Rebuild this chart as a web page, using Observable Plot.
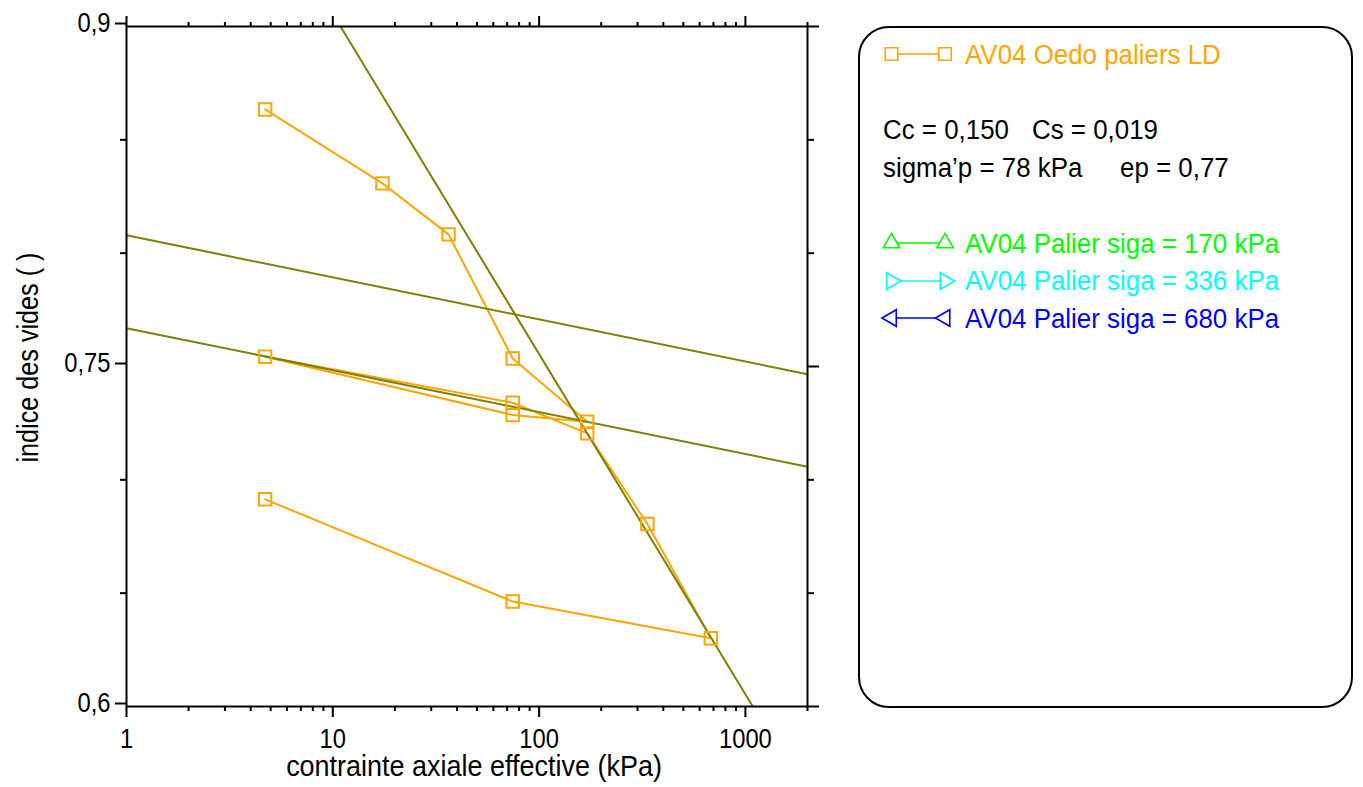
<!DOCTYPE html>
<html><head><meta charset="utf-8">
<script src="https://cdn.jsdelivr.net/npm/d3@7"></script>
<script src="https://cdn.jsdelivr.net/npm/@observablehq/plot@0.6"></script>
<style>
html,body{margin:0;padding:0;background:#fff;}
#wrap{position:relative;width:1363px;height:787px;overflow:hidden;}
#legend{position:absolute;left:0;top:0;pointer-events:none;}
</style></head><body><div id="wrap"></div>
<script>
// ---- data ----
const stress    = [4.7, 17.4, 36.4, 74.5, 171, 74.5, 4.7, 74.5, 171, 335, 680, 74.5, 4.7];
const voidRatio = [0.8634, 0.8308, 0.8083, 0.7535, 0.7256, 0.7286, 0.7543, 0.7340, 0.7205, 0.6805, 0.6301, 0.6463, 0.6914];

const fitName   = ["Cc", "Cc", "Cs1", "Cs1", "Cs2", "Cs2"];
const fitStress = [10.9, 1086, 1, 2000, 1, 2000];
const fitVoid   = [0.9, 0.6, 0.8079, 0.7466, 0.7669, 0.7058];

const xMajor = [1, 10, 100, 1000];
const xMinor = [2,3,4,5,6,7,8,9,20,30,40,50,60,70,80,90,200,300,400,500,600,700,800,900,2000];
const yMajor = [0.6, 0.75, 0.9];
const yMinor = [0.65, 0.7, 0.8, 0.85];

const xTitle = "contrainte axiale effective (kPa)";
const yTitle = "indice des vides ( )";

const legendLabels  = ["AV04 Oedo paliers LD", "AV04 Palier siga = 170 kPa", "AV04 Palier siga = 336 kPa", "AV04 Palier siga = 680 kPa"];
const legendColors  = ["#FFA500", "#00FF00", "#00FFFF", "#0000FF"];
const legendSymbols = ["square", "triangle-up", "triangle-right", "triangle-left"];
const statsText = [["Cc = 0,150", "Cs = 0,019"], ["sigma\u2019p = 78 kPa", "ep = 0,77"]];

const ORANGE = "#FFA500", OLIVE = "#808000";
const FONT = "'Liberation Sans', Arial, Helvetica, sans-serif";

const curve = stress.map((s, i) => ({s, e: voidRatio[i]}));
const fits = fitStress.map((s, i) => ({s, e: fitVoid[i], k: fitName[i]}));
const comma = d => String(d).replace(".", ",");

const plot = Plot.plot({
  width: 1363, height: 787,
  marginLeft: 126, marginRight: 556, marginTop: 26, marginBottom: 81,
  style: {fontFamily: FONT, fontSize: "26px", background: "white", color: "black", overflow: "visible"},
  x: {type: "log", domain: [1, 2000]},
  y: {domain: [0.6, 0.9]},
  marks: [
    Plot.axisX({anchor: "bottom", ticks: xMajor, tickSize: 11, tickPadding: 11, tickFormat: d => String(d), fontSize: 27, stroke: "black", strokeWidth: 2, label: null}),
    Plot.axisX({anchor: "bottom", ticks: xMinor, tickSize: 5, tickFormat: () => "", stroke: "black", strokeWidth: 2, label: null}),
    Plot.axisX({anchor: "top", ticks: xMajor, tickSize: 11, tickFormat: () => "", stroke: "black", strokeWidth: 2, label: null}),
    Plot.axisX({anchor: "top", ticks: xMinor, tickSize: 5, tickFormat: () => "", stroke: "black", strokeWidth: 2, label: null}),
    Plot.axisY({anchor: "left", ticks: yMajor, tickSize: 11, tickPadding: 5, tickFormat: comma, dy: -3, fontSize: 27, stroke: "black", strokeWidth: 2, label: null}),
    Plot.axisY({anchor: "left", ticks: yMinor, tickSize: 6, tickFormat: () => "", stroke: "black", strokeWidth: 2, label: null}),
    Plot.axisY({anchor: "right", ticks: yMajor, tickSize: 11, tickFormat: () => "", stroke: "black", strokeWidth: 2, label: null}),
    Plot.axisY({anchor: "right", ticks: yMinor, tickSize: 6, tickFormat: () => "", stroke: "black", strokeWidth: 2, label: null}),
    Plot.line(curve, {x: "s", y: "e", stroke: ORANGE, strokeWidth: 2}),
    Plot.line(fits, {x: "s", y: "e", z: "k", stroke: OLIVE, strokeWidth: 2}),
    Plot.dot(curve, {x: "s", y: "e", symbol: "square", r: 7, stroke: ORANGE, strokeWidth: 2, fill: "none"}),
    Plot.frame({stroke: "black", strokeWidth: 2}),
    Plot.text([xTitle], {text: d => d, frameAnchor: "bottom", textAnchor: "middle", dy: 69, dx: 7, fontSize: 29}),
    Plot.text([yTitle], {text: d => d, frameAnchor: "left", textAnchor: "middle", rotate: -90, dx: -98, dy: -9, fontSize: 30})
  ]
});

// condense text horizontally (reference uses a narrow sans)
plot.querySelectorAll("text").forEach(t => {
  const s = t.textContent === xTitle ? 0.93 : t.textContent === yTitle ? 0.84 : 0.88;
  const x = +t.getAttribute("x") || 0, y = +t.getAttribute("y") || 0;
  const tr = t.getAttribute("transform") || "";
  t.setAttribute("transform", `${tr} translate(${x},${y}) scale(${s},1) translate(${-x},${-y})`);
});

const wrap = document.getElementById("wrap");
wrap.appendChild(plot);

// ---- legend box ----
const svg = d3.select(wrap).append("svg").attr("id", "legend")
  .attr("width", 1363).attr("height", 787)
  .style("font-family", FONT);
svg.append("rect").attr("x", 859).attr("y", 27).attr("width", 493).attr("height", 680)
  .attr("rx", 30).attr("ry", 30).attr("fill", "none").attr("stroke", "black").attr("stroke-width", 2);

function addText(x, y, str, color) {
  svg.append("text").attr("transform", `translate(${x},${y}) scale(0.925,1)`)
    .attr("font-size", 28).attr("fill", color).text(str);
}
function symbolPath(kind) {
  if (kind === "square") return {d: d3.symbol(d3.symbolSquare, 156)(), rot: 0};
  const d = d3.symbol(d3.symbolTriangle, 118)();
  return {d, rot: kind === "triangle-up" ? 0 : kind === "triangle-right" ? 90 : -90};
}
const rowY = [54, 243, 281, 318];
const baseY = [64, 253, 290, 327.5];
legendLabels.forEach((lab, i) => {
  const col = legendColors[i];
  const x1 = 891.5, x2 = 945;
  const lx1 = legendSymbols[i] === "triangle-left" ? 882 : x1;
  svg.append("line").attr("x1", lx1).attr("x2", x2).attr("y1", rowY[i]).attr("y2", rowY[i])
    .attr("stroke", col).attr("stroke-width", 1.6);
  const sp = symbolPath(legendSymbols[i]);
  [x1, x2].forEach(cx => {
    svg.append("path").attr("d", sp.d)
      .attr("transform", `translate(${cx},${rowY[i]}) rotate(${sp.rot})`)
      .attr("fill", "white").attr("stroke", col).attr("stroke-width", 1.6);
  });
  addText(965, baseY[i], lab, col);
});
addText(883, 139, statsText[0][0], "black");
addText(1032, 139, statsText[0][1], "black");
addText(883, 177, statsText[1][0], "black");
addText(1120, 177, statsText[1][1], "black");
</script></body></html>
